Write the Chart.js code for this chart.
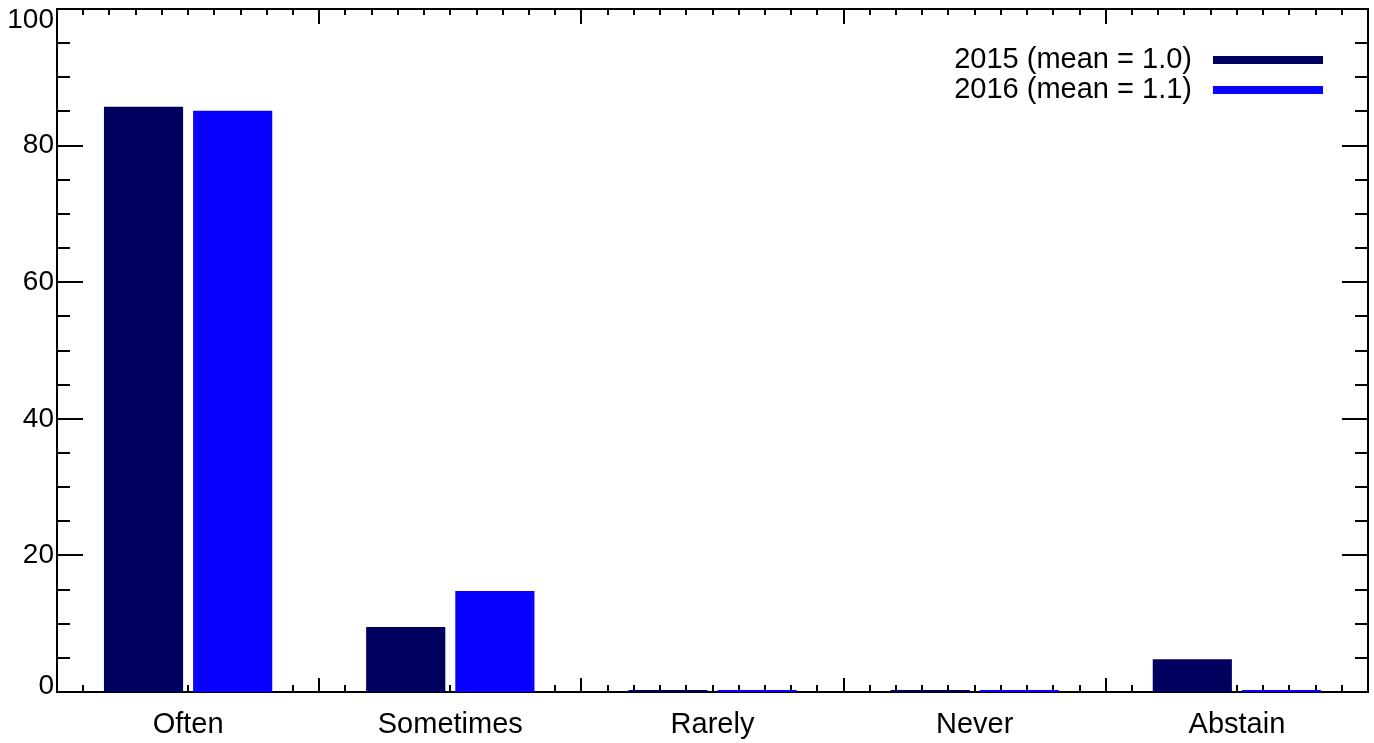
<!DOCTYPE html>
<html lang="en">
  <head>
    <meta charset="UTF-8" />
    <title>Bar chart 2015 / 2016</title>
    <script src="https://cdn.jsdelivr.net/npm/chart.js"></script>
    <style>
      html, body { margin: 0; padding: 0; background: #fff; }
      #chart-container { width: 1374px; height: 743px; }
    </style>
  </head>
  <body>
    <div id="chart-container">
      <canvas id="my-chart"></canvas>
    </div>

    <script>
      const categories = ["Often", "Sometimes", "Rarely", "Never", "Abstain"];
      const values2015 = [85.7, 9.5, 0, 0, 4.8];
      const values2016 = [85.1, 14.8, 0, 0, 0];
      const seriesLabels = ["2015 (mean = 1.0)", "2016 (mean = 1.1)"];
      const yTicks = [0, 20, 40, 60, 80, 100];

      const FONT = "'Liberation Sans', Arial, sans-serif";

      // frame with inward ticks (drawn before the bars so bars sit on top)
      const framePlugin = {
        id: "frame",
        beforeDatasetsDraw(chart) {
          const { ctx, chartArea: a, scales } = chart;
          const x = scales.x, y = scales.y;
          ctx.save();
          ctx.strokeStyle = "#000";
          ctx.lineWidth = 2;
          ctx.strokeRect(a.left, a.top, a.right - a.left, a.bottom - a.top);

          ctx.beginPath();
          for (let v = 0; v <= 100; v += 5) {
            const py = Math.round(y.getPixelForValue(v));
            const len = v % 20 === 0 ? 26 : 13;
            ctx.moveTo(a.left, py); ctx.lineTo(a.left + len, py);
            ctx.moveTo(a.right, py); ctx.lineTo(a.right - len, py);
          }
          for (let i = 0; i < categories.length; i++) {
            for (let k = 0; k < 10; k++) {
              const px = Math.round(x.getPixelForValue(i - 0.5 + k / 10));
              const major = k === 0;
              ctx.moveTo(px, a.bottom); ctx.lineTo(px, a.bottom - (major ? 14 : 7));
              ctx.moveTo(px, a.top); ctx.lineTo(px, a.top + (major ? 15 : 6));
            }
          }
          ctx.stroke();

          // y tick labels
          ctx.fillStyle = "#000";
          ctx.font = "28px " + FONT;
          ctx.textAlign = "right";
          ctx.textBaseline = "middle";
          yTicks.forEach((v) => {
            let py = y.getPixelForValue(v);
            py = Math.min(Math.max(py, 20), 686);
            ctx.fillText(String(v), a.left - 3, py);
          });
          ctx.restore();
        },
      };

      // legend at the top right inside the plot, line sample right of text
      const legendPlugin = {
        id: "sideLegend",
        afterDraw(chart) {
          const { ctx } = chart;
          ctx.save();
          ctx.font = "29px " + FONT;
          ctx.textAlign = "right";
          ctx.textBaseline = "middle";
          chart.data.datasets.forEach((ds, i) => {
            const ly = 60 + i * 30;
            ctx.fillStyle = "#000";
            ctx.fillText(ds.label, 1192, ly);
            ctx.strokeStyle = ds.backgroundColor;
            ctx.lineWidth = 8;
            ctx.beginPath();
            ctx.moveTo(1213, ly);
            ctx.lineTo(1323, ly);
            ctx.stroke();
          });
          ctx.restore();
        },
      };

      const ctx = document.getElementById("my-chart").getContext("2d");
      const myChart = new Chart(ctx, {
        type: "bar",
        data: {
          labels: categories,
          datasets: [
            {
              label: seriesLabels[0],
              data: values2015,
              backgroundColor: "#00005f",
              minBarLength: 2,
            },
            {
              label: seriesLabels[1],
              data: values2016,
              backgroundColor: "#0a00ff",
              minBarLength: 2,
            },
          ],
        },
        options: {
          responsive: true,
          maintainAspectRatio: false,
          animation: false,
          devicePixelRatio: 1,
          categoryPercentage: 0.68,
          barPercentage: 0.888,
          layout: { padding: { top: 9, right: 6, left: 0, bottom: 0 } },
          plugins: {
            legend: { display: false },
            tooltip: { enabled: false },
          },
          scales: {
            x: {
              grid: { display: false, drawTicks: false },
              border: { display: false },
              ticks: {
                color: "#000",
                font: { family: FONT, size: 29 },
                padding: 16,
                maxRotation: 0,
              },
              afterFit(scale) { scale.height = 51; },
            },
            y: {
              min: 0,
              max: 100,
              grid: { display: false, drawTicks: false },
              border: { display: false },
              ticks: { display: false, stepSize: 20 },
              afterFit(scale) { scale.width = 57; },
            },
          },
        },
        plugins: [framePlugin, legendPlugin],
      });
    </script>
  </body>
</html>
